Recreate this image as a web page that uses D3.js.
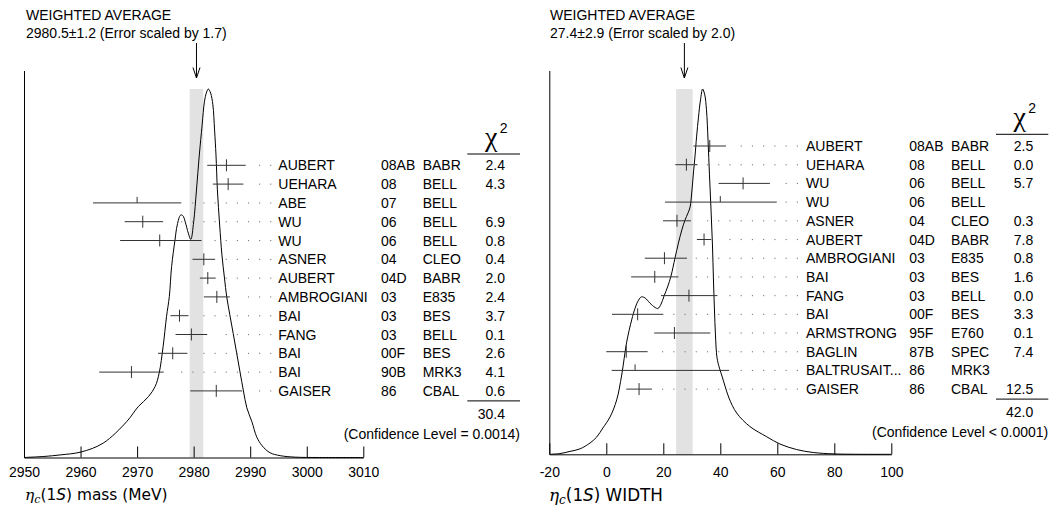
<!DOCTYPE html>
<html>
<head>
<meta charset="utf-8">
<script src="https://cdn.jsdelivr.net/npm/d3@7"></script>
<style>
  body { margin: 0; background: #fff; }
  svg { display: block; }
  text { font-family: "Liberation Sans", Arial, sans-serif; font-size: 14px; fill: #000; }
</style>
</head>
<body>
<svg id="chart" width="1051" height="527"></svg>
<script>
// ---------- η_c(1S) mass (MeV) ----------
const massAuthors = ["AUBERT","UEHARA","ABE","WU","WU","ASNER","AUBERT","AMBROGIANI","BAI","FANG","BAI","BAI","GAISER"];
const massYears   = ["08AB","08","07","06","06","04","04D","03","03","03","00F","90B","86"];
const massExps    = ["BABR","BELL","BELL","BELL","BELL","CLEO","BABR","E835","BES","BELL","BES","MRK3","CBAL"];
const massChi2    = ["2.4","4.3","","6.9","0.8","0.4","2.0","2.4","3.7","0.1","2.6","4.1","0.6"];
const massValues  = [2985.8, 2986.1, 2970.0, 2971.0, 2974.0, 2981.8, 2982.5, 2984.1, 2977.5, 2979.6, 2976.3, 2969.0, 2984.0];
const massErrLow  = [3.4, 2.7, 7.8, 3.2, 7.0, 2.0, 1.4, 2.3, 1.6, 2.8, 2.6, 5.7, 4.6];
const massErrHigh = [3.4, 2.7, 7.8, 3.6, 7.4, 2.0, 1.4, 2.3, 1.6, 2.8, 2.6, 5.7, 4.6];
const massTicks   = [2950, 2960, 2970, 2980, 2990, 3000, 3010];
const massAverage = 2980.5, massAverageErr = 1.2, massErrScale = 1.7;
const massChi2Total = "30.4", massCL = "(Confidence Level = 0.0014)";
// ideogram (relative height vs. mass)
const massCurveX = [2950.0,2953.7,2956.4,2960.1,2964.0,2968.2,2970.2,2972.0,2973.2,2973.9,2974.6,2975.2,2975.7,2976.1,2976.7,2977.1,2977.7,2978.1,2978.5,2979.05,2979.5,2980.0,2980.5,2981.0,2981.5,2981.9,2982.3,2982.6,2983.0,2983.4,2983.7,2983.95,2984.2,2984.6,2985.0,2985.45,2985.85,2986.4,2987.0,2987.6,2988.2,2988.8,2989.4,2990.3,2991.15,2992.1,2993.5,2995.3,2997.9,3002.3,3010.0];
const massCurveY = [0,0.003,0.007,0.015,0.039,0.098,0.138,0.165,0.193,0.229,0.301,0.382,0.437,0.518,0.590,0.631,0.658,0.656,0.640,0.609,0.592,0.639,0.726,0.821,0.902,0.965,0.992,1.0,0.989,0.957,0.889,0.821,0.726,0.631,0.550,0.487,0.436,0.387,0.336,0.284,0.232,0.181,0.135,0.097,0.056,0.032,0.013,0.005,0.001,0,0];

// ---------- η_c(1S) width (MeV) ----------
const widthAuthors = ["AUBERT","UEHARA","WU","WU","ASNER","AUBERT","AMBROGIANI","BAI","FANG","BAI","ARMSTRONG","BAGLIN","BALTRUSAIT...","GAISER"];
const widthYears   = ["08AB","08","06","06","04","04D","03","03","03","00F","95F","87B","86","86"];
const widthExps    = ["BABR","BELL","BELL","BELL","CLEO","BABR","E835","BES","BELL","BES","E760","SPEC","MRK3","CBAL"];
const widthChi2    = ["2.5","0.0","5.7","","0.3","7.8","0.8","1.6","0.0","3.3","0.1","7.4","","12.5"];
const widthValues  = [36.3, 28.1, 48.0, 40.0, 24.8, 34.3, 20.4, 17.0, 29.0, 11.0, 23.9, 7.0, 10.1, 11.5];
const widthErrLow  = [5.7, 3.9, 8.6, 19.4, 4.9, 2.5, 6.9, 8.3, 9.8, 9.0, 7.1, 7.0, 8.2, 4.5];
const widthErrHigh = [5.7, 3.9, 9.4, 19.8, 4.9, 2.5, 7.9, 8.3, 10.0, 9.0, 12.6, 7.5, 33.0, 4.5];
const widthTicks   = [-20, 0, 20, 40, 60, 80, 100];
const widthAverage = 27.4, widthAverageErr = 2.9, widthErrScale = 2.0;
const widthChi2Total = "42.0", widthCL = "(Confidence Level < 0.0001)";
const widthCurveX = [-20.0,-16.25,-12.7,-9.2,-5.7,-3.4,-1.2,1.3,3.65,5.4,7.15,8.9,10.1,11.3,12.35,13.6,15.3,17.1,18.1,19.2,20.25,21.5,22.7,24.1,25.3,26.5,27.6,28.7,29.4,30.0,30.6,31.1,31.7,32.35,33.05,33.8,34.55,35.15,35.7,36.2,36.75,37.25,37.6,37.95,38.3,38.85,39.7,40.6,41.65,43.05,45.75,50.4,56.3,60.95,66.8,72.6,80.25,100.0];
const widthCurveY = [0,0.002,0.008,0.015,0.031,0.047,0.072,0.102,0.149,0.217,0.307,0.368,0.400,0.422,0.431,0.428,0.414,0.402,0.399,0.411,0.433,0.458,0.488,0.537,0.578,0.614,0.641,0.661,0.677,0.718,0.773,0.814,0.871,0.923,0.970,1.0,0.984,0.943,0.860,0.765,0.669,0.573,0.477,0.395,0.327,0.264,0.236,0.214,0.187,0.154,0.113,0.076,0.048,0.028,0.013,0.005,0.001,0];

const fmt1 = d3.format(".1f");
const svg = d3.select("#chart");

function drawPanel(cfg) {
  const g = svg.append("g");
  const n = cfg.authors.length;
  const x = d3.scaleLinear().domain(cfg.domain).range(cfg.xRange);
  const hy = d3.scaleLinear().domain([0, 1]).range([cfg.axisY, cfg.peakY]);
  const ry = d3.scaleLinear().domain([0, n - 1]).range(cfg.rowRange);

  // weighted-average band
  g.append("rect")
    .attr("x", x(cfg.avg - cfg.avgErr))
    .attr("width", x(cfg.avg + cfg.avgErr) - x(cfg.avg - cfg.avgErr))
    .attr("y", cfg.peakY)
    .attr("height", cfg.axisY - cfg.peakY)
    .attr("fill", "#e2e2e2");

  // left frame line
  g.append("line")
    .attr("x1", cfg.xRange[0] + 0.5).attr("x2", cfg.xRange[0] + 0.5)
    .attr("y1", cfg.frameTop).attr("y2", cfg.axisY)
    .attr("stroke", "#000").attr("stroke-width", 1);

  // bottom axis with upward ticks
  const axis = d3.axisBottom(x)
    .tickValues(cfg.ticks)
    .tickSizeInner(-11).tickSizeOuter(0)
    .tickPadding(cfg.tickPad)
    .tickFormat(d => String(d));
  const ax = g.append("g").attr("transform", `translate(0,${cfg.axisY})`).call(axis);
  ax.attr("font-size", null).attr("font-family", null);
  ax.selectAll("text").style("font-size", "14px").attr("fill", "#000");
  ax.selectAll("line,path").attr("stroke", "#000");

  // ideogram
  const pts = cfg.curveX.map((v, i) => [v, cfg.curveY[i]]);
  g.append("path")
    .datum(pts)
    .attr("fill", "none").attr("stroke", "#000").attr("stroke-width", 1)
    .attr("d", d3.line().x(d => x(d[0])).y(d => hy(d[1])).curve(d3.curveCatmullRom.alpha(0.5)));

  // dotted leaders
  cfg.values.forEach((v, i) => {
    const end = x(v + cfg.errHigh[i]);
    const dots = [];
    for (let k = 0; ; k++) {
      const dx = cfg.lastDot - k * cfg.dotStep;
      if (dx <= end + 9) break;
      dots.push(dx);
    }
    g.selectAll(null).data(dots).enter().append("rect")
      .attr("x", d => d - 0.5).attr("y", ry(i) - 0.5)
      .attr("width", 1.1).attr("height", 1.1)
      .attr("fill", "#777");
  });

  // error bars
  const bars = g.selectAll(".bar").data(cfg.values).enter().append("g");
  bars.append("line")
    .attr("x1", (v, i) => x(v - cfg.errLow[i]))
    .attr("x2", (v, i) => x(v + cfg.errHigh[i]))
    .attr("y1", (v, i) => ry(i)).attr("y2", (v, i) => ry(i))
    .attr("stroke", "#333").attr("stroke-width", 1);
  bars.append("line")
    .attr("x1", v => x(v)).attr("x2", v => x(v))
    .attr("y1", (v, i) => ry(i) - 6)
    .attr("y2", (v, i) => cfg.chi2[i] === "" ? ry(i) : ry(i) + 6)
    .attr("stroke", "#333").attr("stroke-width", 1);

  // text columns
  const cols = [
    { arr: cfg.authors, x: cfg.nameX, anchor: "start" },
    { arr: cfg.years, x: cfg.yearX, anchor: "start" },
    { arr: cfg.exps, x: cfg.expX, anchor: "start" },
    { arr: cfg.chi2, x: cfg.chiX, anchor: "end" }
  ];
  cols.forEach(c => {
    g.selectAll(null).data(c.arr).enter().append("text")
      .attr("x", c.x).attr("y", (d, i) => ry(i) + 5)
      .attr("text-anchor", c.anchor)
      .text(d => d);
  });

  // chi-square header and totals
  g.append("line")
    .attr("x1", cfg.ruleX[0]).attr("x2", cfg.ruleX[1])
    .attr("y1", cfg.ruleTop).attr("y2", cfg.ruleTop)
    .attr("stroke", "#000");
  const chiCx = (cfg.ruleX[0] + cfg.ruleX[1]) / 2;
  g.append("text").attr("x", chiCx - 2.5).attr("y", cfg.ruleTop - 8)
    .attr("text-anchor", "middle")
    .style("font-family", "'Liberation Serif', serif").style("font-size", "28px")
    .text("χ");
  g.append("text").attr("x", chiCx + 6).attr("y", cfg.ruleTop - 21)
    .style("font-size", "14px").text("2");
  const lastRow = ry(n - 1);
  g.append("line")
    .attr("x1", cfg.ruleX[0]).attr("x2", cfg.ruleX[1])
    .attr("y1", lastRow + 10).attr("y2", lastRow + 10)
    .attr("stroke", "#000");
  g.append("text").attr("x", cfg.chiX).attr("y", lastRow + 28)
    .attr("text-anchor", "end").text(cfg.total);
  g.append("text").attr("x", cfg.ruleX[1]).attr("y", lastRow + 48)
    .attr("text-anchor", "end").text(cfg.cl);

  // weighted average title and arrow
  g.append("text").attr("x", cfg.titleX).attr("y", 19.5).text("WEIGHTED AVERAGE");
  g.append("text").attr("x", cfg.titleX).attr("y", 37.5)
    .text(`${cfg.avg}±${cfg.avgErr} (Error scaled by ${fmt1(cfg.scale)})`);
  const ax0 = x(cfg.avg);
  g.append("path")
    .attr("d", `M${ax0},43 V78 M${ax0 - 3.5},67.5 L${ax0},78 L${ax0 + 3.5},67.5`)
    .attr("fill", "none").attr("stroke", "#000").attr("stroke-width", 1);

  // axis title: η_c(1S) ...
  const t = g.append("text").attr("x", cfg.titleX - 1).attr("y", cfg.xTitleY)
    .style("font-family", "'DejaVu Sans', sans-serif").style("font-size", cfg.xTitleSize + "px");
  t.append("tspan").style("font-family", "'DejaVu Serif', serif").style("font-style", "italic").text("η");
  t.append("tspan").attr("dy", 3).style("font-family", "'DejaVu Serif', serif").style("font-style", "italic")
    .style("font-size", (cfg.xTitleSize * 0.72) + "px").text("c");
  t.append("tspan").attr("dy", -3).text("(1");
  t.append("tspan").style("font-style", "italic").text("S");
  t.append("tspan").text(") " + cfg.xTitle);
}

drawPanel({
  authors: massAuthors, years: massYears, exps: massExps, chi2: massChi2,
  values: massValues, errLow: massErrLow, errHigh: massErrHigh,
  curveX: massCurveX, curveY: massCurveY,
  domain: [2950, 3010], xRange: [24, 363.3], ticks: massTicks,
  axisY: 457.5, peakY: 89, frameTop: 71, tickPad: 9.5,
  rowRange: [165.3, 390.9],
  avg: massAverage, avgErr: massAverageErr, scale: massErrScale,
  total: massChi2Total, cl: massCL,
  lastDot: 270.7, dotStep: 11.13,
  nameX: 278.3, yearX: 381, expX: 422.7, chiX: 505,
  ruleX: [467.3, 520], ruleTop: 154,
  titleX: 26, xTitle: "mass (MeV)", xTitleY: 500, xTitleSize: 15.4
});

drawPanel({
  authors: widthAuthors, years: widthYears, exps: widthExps, chi2: widthChi2,
  values: widthValues, errLow: widthErrLow, errHigh: widthErrHigh,
  curveX: widthCurveX, curveY: widthCurveY,
  domain: [-20, 100], xRange: [549.3, 891.3], ticks: widthTicks,
  axisY: 454.3, peakY: 89, frameTop: 71, tickPad: 12.8,
  rowRange: [146, 389.1],
  avg: widthAverage, avgErr: widthAverageErr, scale: widthErrScale,
  total: widthChi2Total, cl: widthCL,
  lastDot: 797.3, dotStep: 11.23,
  nameX: 806, yearX: 909.3, expX: 951, chiX: 1033.3,
  ruleX: [996, 1048.3], ruleTop: 134.3,
  titleX: 550, xTitle: "WIDTH", xTitleY: 501, xTitleSize: 16.8
});
</script>
</body>
</html>
